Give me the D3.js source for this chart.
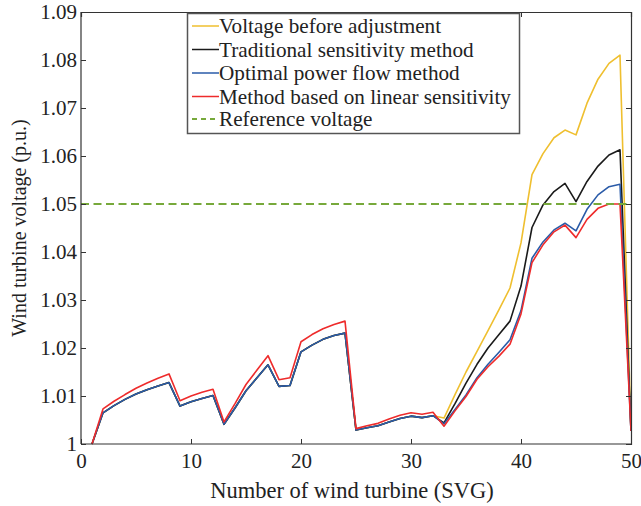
<!DOCTYPE html>
<html>
<head>
<meta charset="utf-8">
<script src="https://cdn.jsdelivr.net/npm/d3@7"></script>
<style>
  body { margin: 0; background: #fff; }
  text { font-family: "Liberation Serif", "Times New Roman", serif; fill: #222; }
</style>
</head>
<body>
<div id="chart"></div>
<script>
// wind turbine index
var turbines = [1,2,3,4,5,6,7,8,9,10,11,12,13,14,15,16,17,18,19,20,21,22,23,24,25,
  26,27,28,29,30,31,32,33,34,35,36,37,38,39,40,41,42,43,44,45,46,47,48,49,50];

var beforeAdj = [1.0000,1.0065,1.0080,1.0093,1.0104,1.0113,1.0121,1.0128,1.0079,1.0088,
  1.0095,1.0101,1.0041,1.0075,1.0111,1.0138,1.0165,1.0120,1.0122,1.0192,
  1.0206,1.0218,1.0226,1.0231,1.0029,1.0034,1.0038,1.0046,1.0053,1.0058,
  1.0055,1.0059,1.0054,1.0103,1.0150,1.0193,1.0236,1.0280,1.0325,1.0419,
  1.0561,1.0605,1.0638,1.0654,1.0644,1.0710,1.0760,1.0793,1.0810,1.0028];

var traditional = [1.0000,1.0065,1.0080,1.0093,1.0104,1.0113,1.0121,1.0128,1.0079,1.0088,
  1.0095,1.0101,1.0041,1.0075,1.0111,1.0138,1.0165,1.0120,1.0122,1.0192,
  1.0206,1.0218,1.0226,1.0231,1.0029,1.0034,1.0038,1.0046,1.0053,1.0058,
  1.0055,1.0059,1.0044,1.0084,1.0127,1.0166,1.0200,1.0228,1.0256,1.0329,
  1.0451,1.0498,1.0526,1.0543,1.0505,1.0547,1.0579,1.0602,1.0613,1.0027];

var opf = [1.0000,1.0065,1.0080,1.0093,1.0104,1.0113,1.0121,1.0128,1.0079,1.0088,
  1.0095,1.0101,1.0041,1.0075,1.0111,1.0138,1.0165,1.0120,1.0122,1.0192,
  1.0206,1.0218,1.0226,1.0231,1.0029,1.0034,1.0038,1.0046,1.0053,1.0058,
  1.0055,1.0059,1.0042,1.0072,1.0102,1.0138,1.0166,1.0191,1.0217,1.0278,
  1.0387,1.0421,1.0446,1.0460,1.0444,1.0489,1.0519,1.0536,1.0541,1.0027];

var linearSens = [1.0000,1.0073,1.0089,1.0103,1.0116,1.0127,1.0137,1.0146,1.0090,1.0100,
  1.0108,1.0114,1.0046,1.0084,1.0124,1.0154,1.0184,1.0134,1.0138,1.0213,
  1.0228,1.0240,1.0249,1.0256,1.0032,1.0038,1.0043,1.0052,1.0060,1.0065,
  1.0062,1.0066,1.0037,1.0069,1.0099,1.0135,1.0161,1.0183,1.0208,1.0271,
  1.0378,1.0415,1.0442,1.0456,1.0430,1.0468,1.0491,1.0500,1.0500,1.0027];

var refVoltage = 1.05;
var xTicks = [0,10,20,30,40,50];
var yTicks = [1,1.01,1.02,1.03,1.04,1.05,1.06,1.07,1.08,1.09];

var seriesNames = ["Voltage before adjustment","Traditional sensitivity method",
  "Optimal power flow method","Method based on linear sensitivity","Reference voltage"];
var seriesColors = ["#efbf2f","#1a1a1a","#2a5ba8","#ee2b2b","#77a93b"];

var W = 641, H = 506;
var m = {left: 81, right: 10, top: 12, bottom: 62};

var svg = d3.select("#chart").append("svg")
  .attr("width", W).attr("height", H);

var x = d3.scaleLinear().domain([0, 50]).range([m.left, W - m.right]);
var y = d3.scaleLinear().domain([1, 1.09]).range([H - m.bottom, m.top]);

var line = d3.line()
  .x(function(d) { return x(d[0]); })
  .y(function(d) { return y(d[1]); });

function pairs(vals) {
  return turbines.map(function(t, i) { return [t, vals[i]]; });
}

// plot lines, drawn in the same order as the legend
var plotData = [beforeAdj, traditional, opf, linearSens];
plotData.forEach(function(vals, i) {
  svg.append("path")
    .datum(pairs(vals))
    .attr("fill", "none")
    .attr("stroke", seriesColors[i])
    .attr("stroke-width", 1.6)
    .attr("stroke-linejoin", "round")
    .attr("d", line);
});

// reference voltage
svg.append("line")
  .attr("x1", x(0)).attr("x2", x(50))
  .attr("y1", y(refVoltage)).attr("y2", y(refVoltage))
  .attr("stroke", seriesColors[4])
  .attr("stroke-width", 2.2)
  .attr("stroke-dasharray", "8,4.5");

// axes with inward ticks on all 4 sides
var axisColor = "#333";
var tickLen = 5;
var xb = svg.append("g").attr("transform", "translate(0," + y(1) + ")")
  .call(d3.axisBottom(x).tickValues(xTicks).tickSize(-tickLen).tickPadding(9).tickFormat(d3.format("d")));
var xt = svg.append("g").attr("transform", "translate(0," + y(1.09) + ")")
  .call(d3.axisTop(x).tickValues(xTicks).tickSize(-tickLen).tickFormat(""));
var yl = svg.append("g").attr("transform", "translate(" + x(0) + ",0)")
  .call(d3.axisLeft(y).tickValues(yTicks).tickSize(-tickLen).tickPadding(4)
    .tickFormat(function(d) { return d === 1 ? "1" : d3.format(".2f")(d); }));
var yr = svg.append("g").attr("transform", "translate(" + x(50) + ",0)")
  .call(d3.axisRight(y).tickValues(yTicks).tickSize(-tickLen).tickFormat(""));

[xb, xt, yl, yr].forEach(function(g) {
  g.select(".domain").attr("stroke", axisColor).attr("stroke-width", 1.2);
  g.selectAll(".tick line").attr("stroke", axisColor);
  g.selectAll(".tick text").attr("fill", "#222")
    .style("font-family", "'Liberation Serif', serif").style("font-size", "21px");
});
xb.select(".domain").attr("d", "M" + x(0) + ",0H" + x(50));
yl.select(".domain").attr("d", "M0," + y(1) + "V" + y(1.09));

// axis titles
svg.append("text")
  .attr("x", (x(0) + x(50)) / 2 - 4).attr("y", 498)
  .attr("text-anchor", "middle")
  .style("font-size", "22.5px")
  .text("Number of wind turbine (SVG)");

svg.append("text")
  .attr("transform", "translate(26," + (y(1) + y(1.09)) / 2 + ") rotate(-90)")
  .attr("text-anchor", "middle")
  .style("font-size", "20px")
  .text("Wind turbine voltage (p.u.)");

// legend
var lg = svg.append("g");
lg.append("rect")
  .attr("x", 187.5).attr("y", 13.5).attr("width", 332).attr("height", 120)
  .attr("fill", "#fff").attr("stroke", "#555").attr("stroke-width", 1.5);

var rowY = [26, 49.5, 73, 96.5, 119];
seriesNames.forEach(function(name, i) {
  lg.append("line")
    .attr("x1", 192).attr("x2", 219)
    .attr("y1", rowY[i]).attr("y2", rowY[i])
    .attr("stroke", seriesColors[i])
    .attr("stroke-width", i === 4 ? 2.2 : 1.5)
    .attr("stroke-dasharray", i === 4 ? "5,4" : null);
  lg.append("text")
    .attr("x", 219).attr("y", rowY[i] + 7)
    .style("font-size", "21.2px")
    .text(name);
});
</script>
</body>
</html>
